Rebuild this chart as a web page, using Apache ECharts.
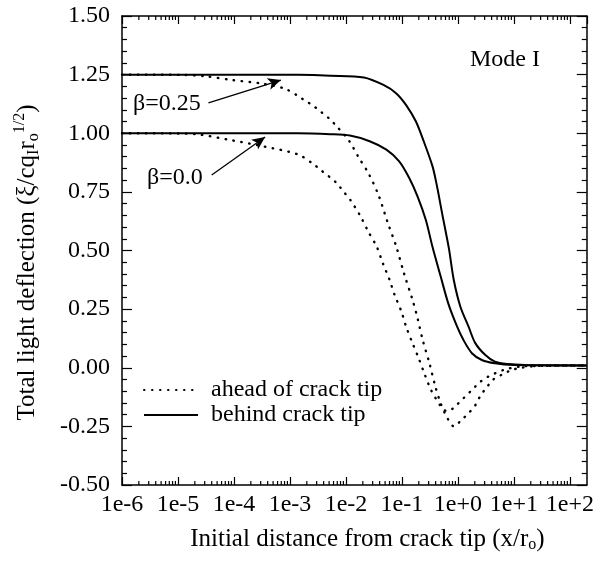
<!DOCTYPE html>
<html>
<head>
<meta charset="utf-8">
<script src="https://cdn.jsdelivr.net/npm/echarts@6/dist/echarts.min.js"></script>
<style>html,body{margin:0;padding:0;background:#fff;}#c{width:597px;height:566px;}</style>
</head>
<body>
<div id="c"></div>
<script>
// x values are given as decade exponents (x = 10^exp)
const solid025Exp = [-6, -3.5, -2.86, -2.28, -1.68, -1.33, -1.1, -0.925, -0.75, -0.61, -0.455, -0.396, -0.338, -0.28, -0.162, -0.074, 0.044, 0.19, 0.31, 0.49, 0.66, 0.89, 1.2, 2.3];
const solid025Y   = [1.25, 1.25, 1.249, 1.245, 1.238, 1.206, 1.17, 1.12, 1.05, 0.965, 0.86, 0.80, 0.73, 0.655, 0.51, 0.374, 0.26, 0.175, 0.105, 0.054, 0.026, 0.016, 0.012, 0.01];

const solid0Exp = [-6, -3.5, -2.86, -2.28, -1.93, -1.577, -1.278, -1.049, -0.872, -0.72, -0.573, -0.455, -0.309, -0.167, -0.014, 0.097, 0.25, 0.427, 0.66, 1.0, 2.3];
const solid0Y   = [1.0, 1.0, 1.0, 0.996, 0.99, 0.966, 0.93, 0.88, 0.81, 0.73, 0.63, 0.516, 0.39, 0.27, 0.175, 0.119, 0.062, 0.033, 0.019, 0.012, 0.01];

const dotted025Exp = [-6, -5, -4.5, -4.04, -3.5, -3.09, -2.86, -2.75, -2.6, -2.45, -2.3, -2.16, -1.95, -1.78, -1.6, -1.42, -1.25, -1.1, -0.96, -0.81, -0.72, -0.63, -0.51, -0.4, -0.31, -0.22, -0.07, 0.074, 0.19, 0.31, 0.40, 0.51, 0.63, 0.78, 0.955, 1.13, 1.45, 2.3];
const dotted025Y   = [1.25, 1.249, 1.243, 1.227, 1.212, 1.19, 1.16, 1.142, 1.12, 1.092, 1.063, 1.028, 0.97, 0.90, 0.83, 0.737, 0.616, 0.516, 0.40, 0.289, 0.21, 0.119, 0.02, -0.083, -0.15, -0.20, -0.25, -0.22, -0.194, -0.16, -0.12, -0.085, -0.05, -0.03, -0.01, 0.0, 0.008, 0.01];

const dotted0Exp = [-6, -5, -4.63, -4.04, -3.45, -2.86, -2.6, -2.45, -2.3, -2.16, -2.04, -1.92, -1.75, -1.6, -1.45, -1.34, -1.22, -1.13, -1.01, -0.925, -0.81, -0.70, -0.60, -0.48, -0.32, -0.25, -0.17, -0.044, 0.10, 0.25, 0.40, 0.54, 0.81, 1.1, 1.45, 2.3];
const dotted0Y   = [1.0, 0.999, 0.995, 0.97, 0.943, 0.91, 0.872, 0.843, 0.815, 0.786, 0.75, 0.715, 0.65, 0.58, 0.516, 0.445, 0.374, 0.31, 0.24, 0.175, 0.104, 0.04, -0.024, -0.095, -0.16, -0.18, -0.185, -0.163, -0.13, -0.095, -0.06, -0.038, -0.01, 0.005, 0.008, 0.01];

const xMin = 1e-6, xMax = 200;
const yMin = -0.5, yMax = 1.5, yStep = 0.25;
const minorMultipliers = [2, 3, 4, 5, 6, 7, 8, 9];
const decadeExps = [-6, -5, -4, -3, -2, -1, 0, 1];

// annotation anchors in data space
const arrow025 = [[3.5e-5, 1.13], [6.9e-4, 1.227]];
const arrow0 = [[4.0e-5, 0.822], [3.6e-4, 0.984]];

function pts(ex, ys) { return ex.map((e, i) => [Math.pow(10, e), ys[i]]); }
const minorTicks = [];
decadeExps.forEach(e => minorMultipliers.forEach(m => { const v = m * Math.pow(10, e); if (v < xMax) minorTicks.push([v, yMin]); }));

const FONT = 'Liberation Serif';
function xFmt(v) {
  const l = Math.log10(v), e = Math.round(l);
  if (Math.abs(l - e) > 1e-6) return '';
  return '1e' + (e >= 0 ? '+' : '-') + Math.abs(e);
}

const chart = echarts.init(document.getElementById('c'));
const axisLine = { show: true, onZero: false, lineStyle: { color: '#000', width: 1.5 } };
const tickStyle = { color: '#000', width: 1.2 };
const solidStyle = { color: '#000', width: 2, type: 'solid' };
const dotStyle = { color: '#000', width: 2.4, type: [0.5, 7.5], cap: 'round' };

chart.setOption({
  animation: false,
  backgroundColor: '#fff',
  grid: { left: 122, right: 4, top: 16, bottom: 81 },
  xAxis: [{
    type: 'log', logBase: 10, min: xMin, max: xMax, interval: 1, position: 'bottom',
    axisLine: axisLine,
    axisTick: { show: true, inside: true, length: 8, lineStyle: tickStyle },
    minorTick: { show: false },
    splitLine: { show: false },
    axisLabel: { formatter: xFmt, fontFamily: FONT, fontSize: 24, color: '#000', margin: 8, showMaxLabel: false },
    name: '{a|Initial distance from crack tip (x/r}{s|o}{a|)}',
    nameLocation: 'middle', nameGap: 40,
    nameTextStyle: { padding: [0, 0, 0, 26], rich: {
      a: { fontFamily: FONT, fontSize: 25, color: '#000', lineHeight: 28, verticalAlign: 'middle' },
      s: { fontFamily: FONT, fontSize: 16, color: '#000', lineHeight: 12, verticalAlign: 'bottom' }
    } }
  }, {
    type: 'log', logBase: 10, min: xMin, max: xMax, interval: 1, position: 'top',
    axisLine: axisLine,
    axisTick: { show: true, inside: true, length: 8, lineStyle: tickStyle },
    axisLabel: { show: false }, splitLine: { show: false }
  }],
  yAxis: [{
    type: 'value', min: yMin, max: yMax, interval: yStep, position: 'left',
    axisLine: axisLine,
    axisTick: { show: true, inside: true, length: 10, lineStyle: tickStyle },
    minorTick: { show: true, splitNumber: 5, length: 5, lineStyle: tickStyle },
    splitLine: { show: false },
    axisLabel: { formatter: v => v.toFixed(2), fontFamily: FONT, fontSize: 24, color: '#000', margin: 12 },
    name: '{a|Total light deflection (ξ/cq}{s|I}{a|r}{s|o}{p|1/2}{a|)}',
    nameLocation: 'middle', nameGap: 80, nameRotate: 90,
    nameTextStyle: { padding: [0, 24, 0, 0], rich: {
      a: { fontFamily: FONT, fontSize: 25, color: '#000', lineHeight: 30, verticalAlign: 'middle' },
      s: { fontFamily: FONT, fontSize: 16, color: '#000', lineHeight: 12, verticalAlign: 'bottom' },
      p: { fontFamily: FONT, fontSize: 16, color: '#000', lineHeight: 10, verticalAlign: 'top' }
    } }
  }, {
    type: 'value', min: yMin, max: yMax, interval: yStep, position: 'right',
    axisLine: axisLine,
    axisTick: { show: true, inside: true, length: 10, lineStyle: tickStyle },
    minorTick: { show: true, splitNumber: 5, length: 5, lineStyle: tickStyle },
    splitLine: { show: false }, axisLabel: { show: false }
  }],
  legend: {
    orient: 'vertical', left: 138, top: 373, itemWidth: 54, itemHeight: 14, itemGap: 1,
    data: ['ahead of crack tip', 'behind crack tip'],
    itemStyle: { opacity: 0 },
    textStyle: { fontFamily: FONT, fontSize: 24, color: '#000', padding: [0, 0, 0, 8] }
  },
  graphic: [
    { type: 'text', left: 470, top: 48, style: { text: 'Mode I', font: '24px "Liberation Serif"', fill: '#000' } },
    { type: 'text', left: 133, top: 92, style: { text: 'β=0.25', font: '24px "Liberation Serif"', fill: '#000' } },
    { type: 'text', left: 147, top: 166, style: { text: 'β=0.0', font: '24px "Liberation Serif"', fill: '#000' } }
  ],
  series: [
    { name: 'ahead of crack tip', type: 'line', data: pts(dotted025Exp, dotted025Y), symbol: 'none', smooth: 0.3, lineStyle: dotStyle, itemStyle: { color: '#000' } },
    { name: 'ahead of crack tip', type: 'line', data: pts(dotted0Exp, dotted0Y), symbol: 'none', smooth: 0.3, lineStyle: dotStyle, itemStyle: { color: '#000' } },
    { name: 'behind crack tip', type: 'line', data: pts(solid025Exp, solid025Y), symbol: 'none', smooth: 0.3, lineStyle: solidStyle, itemStyle: { color: '#000' },
      markLine: { silent: true, symbol: ['none', 'arrow'], symbolSize: [9, 13], label: { show: false },
        lineStyle: { color: '#000', width: 1.3, type: 'solid' },
        data: [[{ coord: arrow025[0] }, { coord: arrow025[1] }], [{ coord: arrow0[0] }, { coord: arrow0[1] }]] } },
    { name: 'behind crack tip', type: 'line', data: pts(solid0Exp, solid0Y), symbol: 'none', smooth: 0.3, lineStyle: solidStyle, itemStyle: { color: '#000' } },
    { type: 'custom', name: 'minorTicks', data: minorTicks, silent: true, clip: false,
      renderItem: function (params, api) {
        const b = api.coord([api.value(0), yMin]);
        const t = api.coord([api.value(0), yMax]);
        return { type: 'group', children: [
          { type: 'line', shape: { x1: b[0], y1: b[1], x2: b[0], y2: b[1] - 4 }, style: { stroke: '#000', lineWidth: 1.2 } },
          { type: 'line', shape: { x1: t[0], y1: t[1], x2: t[0], y2: t[1] + 4 }, style: { stroke: '#000', lineWidth: 1.2 } }
        ] };
      } }
  ]
});
</script>
</body>
</html>
